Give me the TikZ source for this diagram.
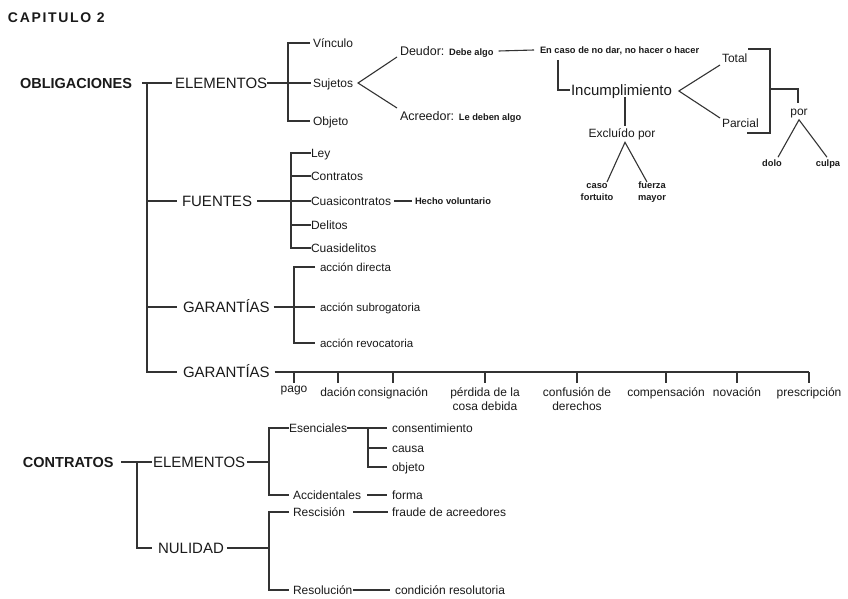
\documentclass[tikz,border=0pt]{standalone}
\usepackage{fontspec}
\setmainfont{Liberation Sans}
\usetikzlibrary{calc}
\definecolor{txt}{HTML}{1A1A1A}
\definecolor{lin}{HTML}{333333}
\begin{document}
\begin{tikzpicture}[x=1pt,y=-1pt,
  t/.style={inner sep=0pt, outer sep=0pt, text depth=0pt, text height=8.6pt, anchor=west, text=txt, font=\fontsize{12}{12}\selectfont},
  ts/.style={t, text height=8.2pt, font=\fontsize{11.5}{11.5}\selectfont},
  big/.style={t, text height=10.7pt, font=\fontsize{15}{15}\selectfont},
  hd/.style={t, text height=10.4pt, font=\fontsize{14.5}{14.5}\selectfont\bfseries},
  tiny/.style={t, text height=6.6pt, font=\fontsize{9.3}{9.3}\selectfont\bfseries},
  two/.style={inner sep=0pt, outer sep=0pt, anchor=north, align=center, text=txt, font=\fontsize{9.3}{12}\selectfont\bfseries},
  lab/.style={inner sep=0pt, outer sep=0pt, anchor=north, align=center, text=txt, font=\fontsize{12}{14}\selectfont},
  ln/.style={draw=lin, line width=1.1pt},
]
\useasboundingbox (0,0) rectangle (848,599);

% ---------- title ----------
\node[t, text height=10pt, font=\fontsize{14}{14}\selectfont\bfseries\addfontfeature{LetterSpace=12}] (title) at (8,18) {CAPITULO 2};

% ---------- OBLIGACIONES ----------
\node[hd] (oblig) at (20,83) {OBLIGACIONES};
\node[big] (elem1) at (175,83) {ELEMENTOS};
\node[big] (fuentes) at (182,201) {FUENTES};
\node[big] (garant1) at (183,307) {GARANTÍAS};
\node[big] (garant2) at (183,372) {GARANTÍAS};
\coordinate (tr0) at (147,83);
\draw[ln] ($(oblig.east)+(10,0)$) -- ($(elem1.west)+(-3,0)$);
\draw[ln] (tr0) |- ($(garant2.west)+(-6,0)$);
\draw[ln] (tr0 |- fuentes.west) -- ($(fuentes.west)+(-5,0)$);
\draw[ln] (tr0 |- garant1.west) -- ($(garant1.west)+(-6,0)$);

% elementos
\node[t] (vinculo) at (313,43) {Vínculo};
\node[t] (sujetos) at (313,83) {Sujetos};
\node[t] (objeto) at (313,121) {Objeto};
\coordinate (b1) at (288,83);
\draw[ln] (elem1.east) -- ($(sujetos.west)+(-2,0)$);
\draw[ln] ($(vinculo.west)+(-3,0)$) -| (b1 |- objeto.west) -- ($(objeto.west)+(-3,0)$);

% sujetos
\node[t, font=\fontsize{12.5}{12.5}\selectfont] (deudor) at (400,51) {Deudor: {\fontsize{9.3}{9.3}\selectfont\bfseries Debe algo}};
\node[t, font=\fontsize{12.5}{12.5}\selectfont] (acreedor) at (400,116) {Acreedor: {\fontsize{9.3}{9.3}\selectfont\bfseries Le deben algo}};
\coordinate (sv) at ($(sujetos.east)+(5,0)$);
\draw[ln] ($(deudor.west)+(-3,6)$) -- (sv) -- ($(acreedor.west)+(-3,-8)$);
\node[tiny] (encaso) at (540,50) {En caso de no dar, no hacer o hacer};
\draw[ln] ($(deudor.east)+(5,0)$) -- ($(encaso.west)+(-6,0)$);
\node[big] (incump) at (571,90) {Incumplimiento};
\draw[ln] ($(encaso.west)+(18,10)$) |- ($(incump.west)+(-1,0)$);

% total / parcial
\node[t] (total) at (722,58) {Total};
\node[t] (parcial) at (722,123) {Parcial};
\coordinate (iv) at ($(incump.east)+(7,1)$);
\draw[ln] ($(total.west)+(-2,7)$) -- (iv) -- ($(parcial.west)+(-2,-5)$);
\coordinate (bt) at (770,49);
\coordinate (bb) at (770,133);
\coordinate (br1) at (770,89);
\draw[ln] ($(total.east)+(1,-9)$) -- (bt) -- (bb) -- (bb -| total.east);
\node[t, anchor=center] (por) at (799,111.5) {por};
\draw[ln] (br1) -| ($(por.north)+(-1,-4)$);
\node[tiny, anchor=center] (dolo) at (772,163) {dolo};
\node[tiny, anchor=center] (culpa) at (828,163) {culpa};
\coordinate (pv) at ($(por.south)+(0,4)$);
\draw[ln] ($(dolo.north)+(6,-2.5)$) -- (pv) -- ($(culpa.north)+(-1,-2.5)$);

% excluido
\node[t, anchor=center] (excl) at (622,133) {Excluído por};
\draw[ln] ($(incump.west)+(54,7)$) -- ($(excl.north)+(3,-3)$);
\node[two] (caso) at (597,183) {caso\\fortuito};
\node[two] (fuerza) at (652,181.5) {fuerza\\mayor};
\coordinate (ev) at ($(excl.south)+(3,5)$);
\draw[ln] ($(caso.north)+(10,-1)$) -- (ev) -- ($(fuerza.north)+(-5,0.5)$);

% fuentes
\node[t] (ley) at (311,153) {Ley};
\node[t] (contratos) at (311,176) {Contratos};
\node[t] (cuasic) at (311,201) {Cuasicontratos};
\node[t] (delitos) at (311,225) {Delitos};
\node[t] (cuasid) at (311,248) {Cuasidelitos};
\node[tiny] (hecho) at (415,201) {Hecho voluntario};
\coordinate (b2) at (291,201);
\draw[ln] ($(fuentes.east)+(5,0)$) -- (cuasic.west);
\draw[ln] (ley.west) -| (b2 |- cuasid.west) -- (cuasid.west);
\draw[ln] (b2 |- contratos.west) -- (contratos.west);
\draw[ln] (b2 |- delitos.west) -- (delitos.west);
\draw[ln] ($(cuasic.east)+(3,0)$) -- ($(hecho.west)+(-3,0)$);

% garantias 1
\node[ts] (directa) at (320,267) {acción directa};
\node[ts] (subrog) at (320,307) {acción subrogatoria};
\node[ts] (revoc) at (320,343) {acción revocatoria};
\coordinate (b3) at (294,307);
\draw[ln] ($(garant1.east)+(4,0)$) -- ($(subrog.west)+(-5,0)$);
\draw[ln] ($(directa.west)+(-5,0)$) -| (b3 |- revoc.west) -- ($(revoc.west)+(-5,0)$);

% garantias 2
\node[lab] (pago) at (294,386.5) {pago};
\node[lab] (dacion) at (338,388) {dación};
\node[lab] (consig) at (393,388) {consignación};
\node[lab] (perdida) at (485,388) {pérdida de la\\cosa debida};
\node[lab] (confusion) at (577,388) {confusión de\\derechos};
\node[lab] (compens) at (666,388) {compensación};
\node[lab] (novacion) at (737,388) {novación};
\node[lab] (presc) at (809,388) {prescripción};
\draw[ln] ($(garant2.east)+(5,0)$) -- (presc.north |- garant2.west);
\foreach \n in {pago,dacion,consig,perdida,confusion,compens,novacion,presc}
  \draw[ln] (\n.north |- garant2.west) -- ++(0,11);

% ---------- CONTRATOS ----------
\node[hd] (contr) at (23,462) {CONTRATOS};
\node[big] (elem2) at (153,462) {ELEMENTOS};
\node[big] (nulidad) at (158,548) {NULIDAD};
\coordinate (tr2) at (137,462);
\draw[ln] ($(contr.east)+(8,0)$) -- ($(elem2.west)+(-1,0)$);
\draw[ln] (tr2) |- ($(nulidad.west)+(-6,0)$);

\node[t] (esenc) at (289,428) {Esenciales};
\node[t] (accid) at (293,495) {Accidentales};
\node[t] (consent) at (392,428) {consentimiento};
\node[t] (causa) at (392,448) {causa};
\node[t] (objeto2) at (392,467) {objeto};
\node[t] (forma) at (392,495) {forma};
\coordinate (b4) at (269,462);
\coordinate (b5) at (368,428);
\draw[ln] ($(elem2.east)+(2,0)$) -- (b4);
\draw[ln] (esenc.west) -| (b4 |- accid.west) -- ($(accid.west)+(-4,0)$);
\draw[ln] (esenc.east) -- ($(consent.west)+(-5,0)$);
\draw[ln] (b5) |- ($(objeto2.west)+(-5,0)$);
\draw[ln] (b5 |- causa.west) -- ($(causa.west)+(-5,0)$);
\draw[ln] ($(accid.east)+(6,0)$) -- ($(forma.west)+(-5,0)$);

\node[t] (resc) at (293,512) {Rescisión};
\node[t] (resol) at (293,590) {Resolución};
\node[t] (fraude) at (392,512) {fraude de acreedores};
\node[t] (condic) at (395,590) {condición resolutoria};
\coordinate (b6) at (269,548);
\draw[ln] ($(nulidad.east)+(3,0)$) -- (b6);
\draw[ln] ($(resc.west)+(-4,0)$) -| (b6 |- resol.west) -- ($(resol.west)+(-4,0)$);
\draw[ln] ($(resc.east)+(8,0)$) -- ($(fraude.west)+(-4,0)$);
\draw[ln] ($(resol.east)+(1,0)$) -- ($(condic.west)+(-5,0)$);
\end{tikzpicture}
\end{document}
